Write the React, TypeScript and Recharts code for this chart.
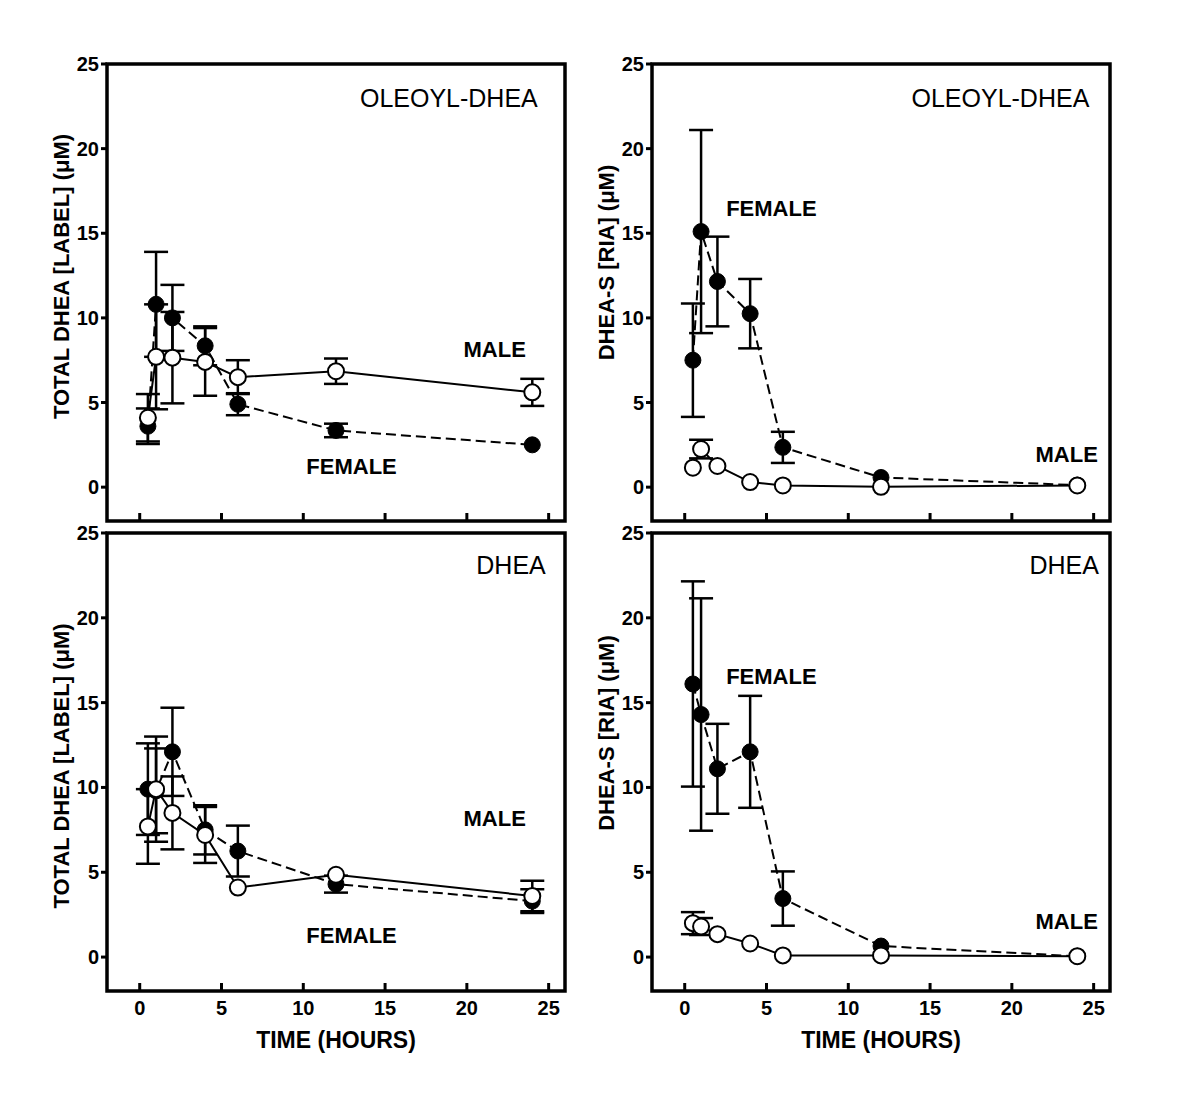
import React from 'react';
import {
  LineChart,
  Line,
  XAxis,
  YAxis,
  ErrorBar,
  ReferenceArea,
  ReferenceDot
} from 'recharts';

// sampling times (hours)
const times = [0.5, 1, 2, 4, 6, 12, 24];
const xTicks = [0, 5, 10, 15, 20, 25];
const yTicks = [0, 5, 10, 15, 20, 25];

// oleoyl-DHEA, total DHEA [label]
const oleoylTotalFemale = [3.6, 10.8, 10.0, 8.35, 4.9, 3.35, 2.5];
const oleoylTotalFemaleErr = [1.05, 3.1, 1.95, 1.15, 0.65, 0.4, null];
const oleoylTotalMale = [4.1, 7.7, 7.65, 7.4, 6.5, 6.85, 5.6];
const oleoylTotalMaleErr = [1.4, 3.1, 2.7, 2.0, 1.0, 0.75, 0.8];

// oleoyl-DHEA, DHEA-S [RIA]
const oleoylRiaFemale = [7.5, 15.1, 12.15, 10.25, 2.35, 0.57, 0.12];
const oleoylRiaFemaleErr = [3.35, 6.0, 2.65, 2.05, 0.92, null, null];
const oleoylRiaMale = [1.15, 2.25, 1.25, 0.3, 0.1, 0.02, 0.1];
const oleoylRiaMaleErr = [null, 0.55, null, null, null, null, null];

// DHEA, total DHEA [label]
const dheaTotalFemale = [9.9, 9.8, 12.1, 7.5, 6.25, 4.3, 3.3];
const dheaTotalFemaleErr = [2.7, 2.5, 2.6, 1.45, 1.5, 0.5, 0.7];
const dheaTotalMale = [7.7, 9.9, 8.5, 7.2, 4.1, 4.85, 3.6];
const dheaTotalMaleErr = [2.2, 3.1, 2.15, 1.65, null, null, 0.9];

// DHEA, DHEA-S [RIA]
const dheaRiaFemale = [16.1, 14.3, 11.1, 12.1, 3.45, 0.65, 0.05];
const dheaRiaFemaleErr = [6.05, 6.85, 2.65, 3.3, 1.6, null, null];
const dheaRiaMale = [2.0, 1.8, 1.35, 0.8, 0.1, 0.1, 0.05];
const dheaRiaMaleErr = [0.65, 0.5, null, null, null, null, null];

const FONT = '"Liberation Sans", Arial, Helvetica, sans-serif';

const build = (vals: number[], errs: (number | null)[]) =>
  times.map((t, i) => ({ t, v: vals[i], err: errs[i] }));

interface Note {
  text: string;
  t: number;
  v: number;
  bold: boolean;
}

interface PanelProps {
  left: number;
  top: number;
  height: number;
  marginTop: number;
  marginBottom: number;
  xAxisHeight: number;
  showX: boolean;
  yTitle: string;
  yTitleDy: number;
  female: { t: number; v: number; err: number | null }[];
  male: { t: number; v: number; err: number | null }[];
  notes: Note[];
}

// x ticks point into the plot, as in the original figure
const TimeTick = (props: any) => {
  const { x, y, payload, showLabel } = props;
  return (
    <g>
      <line x1={x} x2={x} y1={y} y2={y - 8} stroke="#000" strokeWidth={3} />
      {showLabel && (
        <text
          x={x}
          y={y + 24}
          textAnchor="middle"
          fill="#000"
          fontSize={20}
          fontWeight="bold"
          fontFamily={FONT}
        >
          {payload.value}
        </text>
      )}
    </g>
  );
};

const ValueTick = (props: any) => {
  const { x, y, payload } = props;
  return (
    <text
      x={x}
      y={y}
      textAnchor="end"
      dominantBaseline="central"
      fill="#000"
      fontSize={20}
      fontWeight="bold"
      fontFamily={FONT}
    >
      {payload.value}
    </text>
  );
};

const Panel: React.FC<PanelProps> = (p) => {
  const renderTimeTitle = (props: any) => {
    const vb = props.viewBox || { x: 107, y: 0, width: 458, height: 0 };
    return (
      <text
        x={vb.x + vb.width / 2}
        y={vb.y + 49}
        textAnchor="middle"
        dominantBaseline="central"
        fill="#000"
        fontSize={23}
        fontWeight="bold"
        fontFamily={FONT}
      >
        TIME (HOURS)
      </text>
    );
  };

  const renderYTitle = (props: any) => {
    const vb = props.viewBox || { x: 47, y: p.marginTop, width: 60, height: 457 };
    const cx = vb.x + vb.width - 46;
    const cy = vb.y + vb.height / 2 + p.yTitleDy;
    return (
      <text
        x={cx}
        y={cy}
        transform={`rotate(-90, ${cx}, ${cy})`}
        textAnchor="middle"
        dominantBaseline="central"
        fill="#000"
        fontSize={22}
        fontWeight="bold"
        fontFamily={FONT}
      >
        {p.yTitle}
      </text>
    );
  };

  return (
    <div style={{ position: 'absolute', left: p.left, top: p.top }}>
      <LineChart
        width={600}
        height={p.height}
        margin={{ top: p.marginTop, right: 35, bottom: p.marginBottom, left: 47 }}
      >
        <XAxis
          dataKey="t"
          type="number"
          domain={[-2, 26]}
          ticks={xTicks}
          interval={0}
          allowDataOverflow
          axisLine={false}
          tickLine={false}
          tickSize={0}
          tickMargin={0}
          height={p.xAxisHeight}
          tick={(tp: any) => <TimeTick {...tp} showLabel={p.showX} />}
          label={p.showX ? renderTimeTitle : undefined}
        />
        <YAxis
          type="number"
          domain={[-2, 25]}
          ticks={yTicks}
          interval={0}
          allowDataOverflow
          width={60}
          axisLine={false}
          tickLine={{ stroke: '#000', strokeWidth: 3 }}
          tickSize={6}
          tickMargin={2}
          tick={(tp: any) => <ValueTick {...tp} />}
          label={renderYTitle}
        />
        <ReferenceArea
          x1={-2}
          x2={26}
          y1={-2}
          y2={25}
          fill="none"
          fillOpacity={0}
          stroke="#000"
          strokeWidth={3.5}
          ifOverflow="visible"
        />
        <Line
          data={p.female}
          dataKey="v"
          type="linear"
          stroke="#000"
          strokeWidth={2}
          strokeDasharray="10 5"
          dot={{ r: 8, fill: '#000', stroke: '#000', strokeWidth: 1, strokeDasharray: '' }}
          activeDot={false}
          isAnimationActive={false}
        >
          <ErrorBar dataKey="err" direction="y" width={12} stroke="#000" strokeWidth={2.5} />
        </Line>
        <Line
          data={p.male}
          dataKey="v"
          type="linear"
          stroke="#000"
          strokeWidth={2}
          dot={{ r: 8, fill: '#fff', stroke: '#000', strokeWidth: 2 }}
          activeDot={false}
          isAnimationActive={false}
        >
          <ErrorBar dataKey="err" direction="y" width={12} stroke="#000" strokeWidth={2.5} />
        </Line>
        {p.notes.map((n) => (
          <ReferenceDot
            key={n.text}
            x={n.t}
            y={n.v}
            r={0}
            fill="none"
            stroke="none"
            label={{
              value: n.text,
              position: 'center',
              fill: '#000',
              fontSize: n.bold ? 22 : 25,
              fontWeight: n.bold ? 'bold' : 'normal',
              fontFamily: FONT
            }}
          />
        ))}
      </LineChart>
    </div>
  );
};

const App: React.FC = () => {
  const top = { top: 0, height: 545, marginTop: 64, marginBottom: 0, xAxisHeight: 24, showX: false };
  const bottom = { top: 520, height: 580, marginTop: 13, marginBottom: 39, xAxisHeight: 70, showX: true };

  return (
    <div
      style={{
        position: 'absolute',
        left: 0,
        top: 0,
        width: 1200,
        height: 1100,
        background: '#fff',
        fontFamily: FONT
      }}
    >
      <Panel
        left={0}
        {...top}
        yTitle="TOTAL DHEA [LABEL] (μM)"
        yTitleDy={-16}
        female={build(oleoylTotalFemale, oleoylTotalFemaleErr)}
        male={build(oleoylTotalMale, oleoylTotalMaleErr)}
        notes={[
          { text: 'OLEOYL-DHEA', t: 18.9, v: 23.0, bold: false },
          { text: 'MALE', t: 21.7, v: 8.15, bold: true },
          { text: 'FEMALE', t: 12.95, v: 1.25, bold: true }
        ]}
      />
      <Panel
        left={545}
        {...top}
        yTitle="DHEA-S [RIA] (μM)"
        yTitleDy={-30}
        female={build(oleoylRiaFemale, oleoylRiaFemaleErr)}
        male={build(oleoylRiaMale, oleoylRiaMaleErr)}
        notes={[
          { text: 'OLEOYL-DHEA', t: 19.3, v: 23.0, bold: false },
          { text: 'FEMALE', t: 5.3, v: 16.5, bold: true },
          { text: 'MALE', t: 23.35, v: 1.95, bold: true }
        ]}
      />
      <Panel
        left={0}
        {...bottom}
        yTitle="TOTAL DHEA [LABEL] (μM)"
        yTitleDy={4}
        female={build(dheaTotalFemale, dheaTotalFemaleErr)}
        male={build(dheaTotalMale, dheaTotalMaleErr)}
        notes={[
          { text: 'DHEA', t: 22.7, v: 23.1, bold: false },
          { text: 'MALE', t: 21.7, v: 8.2, bold: true },
          { text: 'FEMALE', t: 12.95, v: 1.3, bold: true }
        ]}
      />
      <Panel
        left={545}
        {...bottom}
        yTitle="DHEA-S [RIA] (μM)"
        yTitleDy={-29}
        female={build(dheaRiaFemale, dheaRiaFemaleErr)}
        male={build(dheaRiaMale, dheaRiaMaleErr)}
        notes={[
          { text: 'DHEA', t: 23.2, v: 23.1, bold: false },
          { text: 'FEMALE', t: 5.3, v: 16.55, bold: true },
          { text: 'MALE', t: 23.35, v: 2.1, bold: true }
        ]}
      />
    </div>
  );
};

export default App;
